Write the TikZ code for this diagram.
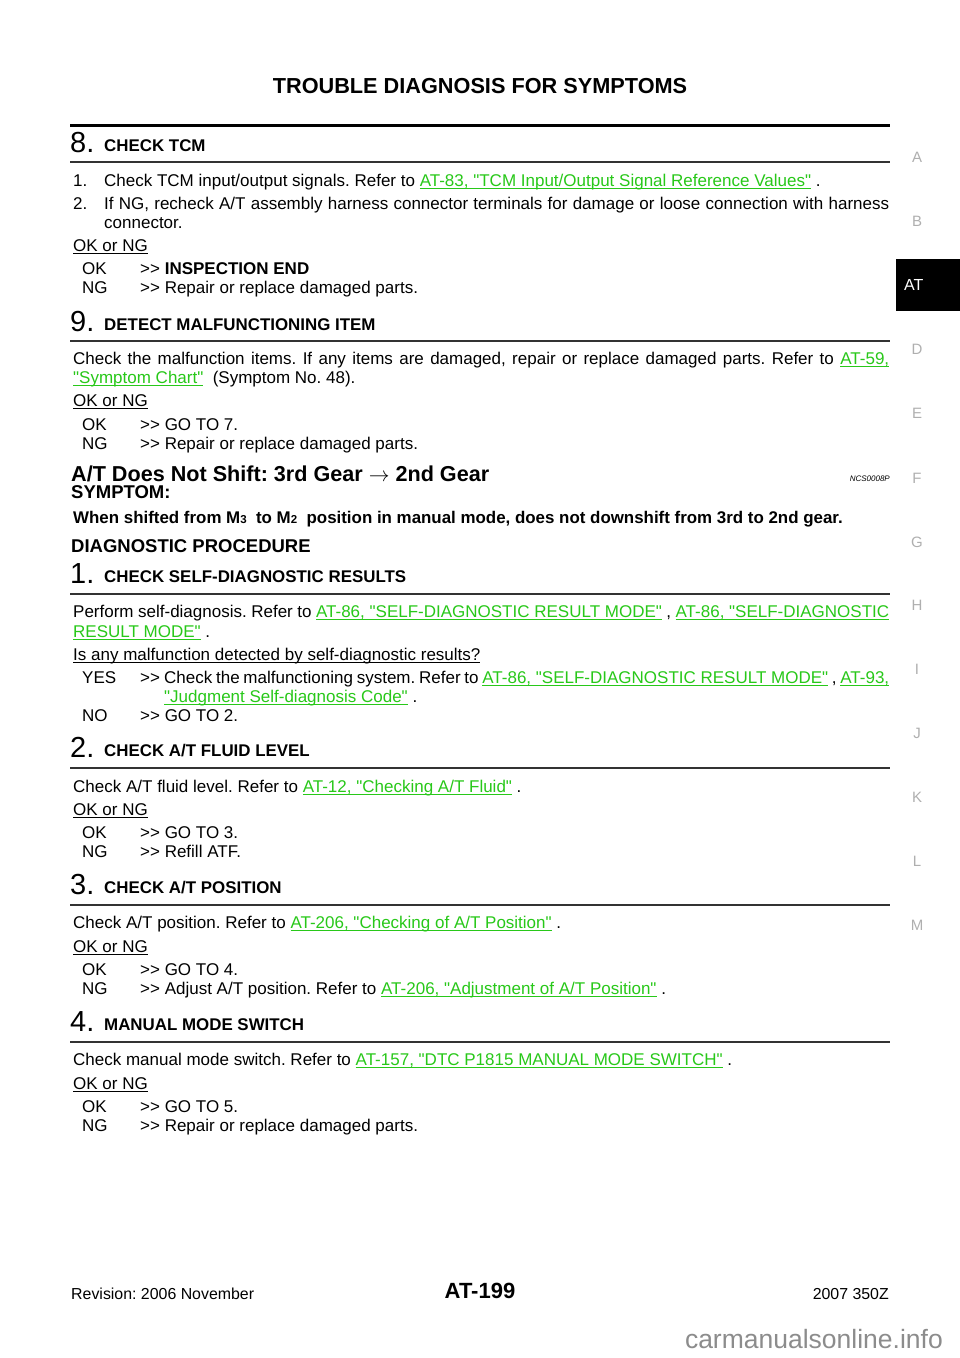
\documentclass[tikz,border=0pt]{standalone}
\usepackage{fontspec}
\setmainfont{Liberation Sans}[Ligatures=TeXOff]
\usepackage{xcolor}
\definecolor{lk}{RGB}{40,200,25}
\definecolor{tabgray}{RGB}{175,175,175}
\definecolor{rulegray}{RGB}{50,50,50}
\definecolor{wmgray}{RGB}{140,140,140}
\newcommand\fs[1]{\fontsize{#1}{#1}\selectfont}
\newcommand\ulx[1]{\setbox0\hbox{#1}\rlap{\rule[-3pt]{\wd0}{1pt}}\box0}
\newcommand\lnk[1]{{\color{lk}\ulx{#1}}}
\newcommand\dgt{>>}
\newcommand\jl[2]{\makebox[#1pt][s]{#2}}
\frenchspacing
\begin{document}
\begin{tikzpicture}[x=1pt,y=-1pt,
  txt/.style={anchor=base west,inner sep=0pt,font=\fs{17}},
  head/.style={anchor=base west,inner sep=0pt,font=\fs{16.9}\bfseries},
  num/.style={anchor=base west,inner sep=0pt,font=\fs{29}},
  side/.style={anchor=center,inner sep=0pt,font=\fs{15},text=tabgray},
  thinrule/.style={line width=1.6pt,draw=rulegray},
  thickrule/.style={line width=3pt,draw=black}]
\fill[white] (0,0) rectangle (960,1358);
\useasboundingbox (0,0) rectangle (960,1358);

% header
\node[anchor=base,inner sep=0pt,font=\fs{21.7}\bfseries] (title) at (480,93) {TROUBLE DIAGNOSIS FOR SYMPTOMS};
\coordinate (tl) at (70,125); \coordinate (tr) at (890,125);
\draw[thickrule] (tl) -- (tr);

% side tabs
\node[side] (sA) at (917,157) {A};
\node[side] (sB) at (917,221) {B};
\fill[black] (896,259) rectangle (960,311);
\node[anchor=west,inner sep=0pt,font=\fs{16},text=white] (sAT) at (904,285) {AT};
\node[side] (sD) at (917,349) {D};
\node[side] (sE) at (917,413) {E};
\node[side] (sF) at (917,478) {F};
\node[side] (sG) at (917,542) {G};
\node[side] (sH) at (917,605) {H};
\node[side] (sI) at (917,669) {I};
\node[side] (sJ) at (917,733) {J};
\node[side] (sK) at (917,797) {K};
\node[side] (sL) at (917,861) {L};
\node[side] (sM) at (917,925) {M};

% step 8
\node[num] (n8) at (70,152) {8.};
\node[head] (h8) at (104,151) {CHECK TCM};
\coordinate (r8l) at (70,162); \coordinate (r8r) at (890,162);
\draw[thinrule] (r8l) -- (r8r);
\node[txt] (a81) at (73,186) {1.};
\node[txt] (b81) at (104,186) {Check TCM input/output signals. Refer to \lnk{AT-83, "TCM Input/Output Signal Reference Values"} .};
\node[txt] (a82) at (73,209) {2.};
\node[txt] (b82) at (104,209) {\jl{785}{If NG, recheck A/T assembly harness connector terminals for damage or loose connection with harness}};
\node[txt] (c82) at (104,228) {connector.};
\node[txt] (q8) at (73,251) {\ulx{OK or NG}};
\node[txt] (o8) at (82,274) {OK};
\node[txt] (oa8) at (140,274) {\dgt\ \textbf{INSPECTION END}};
\node[txt] (g8) at (82,293) {NG};
\node[txt] (ga8) at (140,293) {\dgt\ Repair or replace damaged parts.};

% step 9
\node[num] (n9) at (70,331) {9.};
\node[head] (h9) at (104,330) {DETECT MALFUNCTIONING ITEM};
\coordinate (r9l) at (70,341); \coordinate (r9r) at (890,341);
\draw[thinrule] (r9l) -- (r9r);
\node[txt] (b91) at (73,364) {\jl{816}{Check the malfunction items. If any items are damaged, repair or replace damaged parts. Refer to \lnk{AT-59,}}};
\node[txt] (b92) at (73,383) {\lnk{"Symptom Chart"} \ (Symptom No. 48).};
\node[txt] (q9) at (73,406) {\ulx{OK or NG}};
\node[txt] (o9) at (82,430) {OK};
\node[txt] (oa9) at (140,430) {\dgt\ GO TO 7.};
\node[txt] (g9) at (82,449) {NG};
\node[txt] (ga9) at (140,449) {\dgt\ Repair or replace damaged parts.};

% section title
\node[anchor=base west,inner sep=0pt,font=\fs{21.6}\bfseries] (sec) at (71,481) {A/T Does Not Shift: 3rd Gear {\normalfont$\rightarrow$} 2nd Gear};
\node[anchor=base east,inner sep=0pt,font=\fs{8}\itshape] (code) at (890,481) {NCS0008P};
\node[anchor=base west,inner sep=0pt,font=\fs{18.5}\bfseries] (sym) at (71,498) {SYMPTOM:};
\node[anchor=base west,inner sep=0pt,font=\fs{16.9}\bfseries] (symt) at (73,523) {When shifted from M{\fs{11.5}3} \ to M{\fs{11.5}2} \ position in manual mode, does not downshift from 3rd to 2nd gear.};
\node[anchor=base west,inner sep=0pt,font=\fs{18.5}\bfseries] (dp) at (71,552) {DIAGNOSTIC PROCEDURE};

% step 1
\node[num] (n1) at (70,583) {1.};
\node[head] (h1) at (104,582) {CHECK SELF-DIAGNOSTIC RESULTS};
\coordinate (r1l) at (70,594); \coordinate (r1r) at (890,594);
\draw[thinrule] (r1l) -- (r1r);
\node[txt] (b11) at (73,617) {\jl{816}{Perform self-diagnosis. Refer to \lnk{AT-86, "SELF-DIAGNOSTIC RESULT MODE"} , \lnk{AT-86, "SELF-DIAGNOSTIC}}};
\node[txt] (b12) at (73,637) {\lnk{RESULT MODE"} .};
\node[txt] (q1) at (73,660) {\ulx{Is any malfunction detected by self-diagnostic results?}};
\node[txt] (y1) at (82,683) {YES};
\node[txt] (ya1) at (140,683) {\dgt};
\node[txt] (yb1) at (164,683) {\jl{725}{Check the malfunctioning system. Refer to \lnk{AT-86, "SELF-DIAGNOSTIC RESULT MODE"} , \lnk{AT-93,}}};
\node[txt] (yc1) at (164,702) {\lnk{"Judgment Self-diagnosis Code"} .};
\node[txt] (no1) at (82,721) {NO};
\node[txt] (noa1) at (140,721) {\dgt\ GO TO 2.};

% step 2
\node[num] (n2) at (70,757) {2.};
\node[head] (h2) at (104,756) {CHECK A/T FLUID LEVEL};
\coordinate (r2l) at (70,768); \coordinate (r2r) at (890,768);
\draw[thinrule] (r2l) -- (r2r);
\node[txt] (b21) at (73,792) {Check A/T fluid level. Refer to \lnk{AT-12, "Checking A/T Fluid"} .};
\node[txt] (q2) at (73,815) {\ulx{OK or NG}};
\node[txt] (o2) at (82,838) {OK};
\node[txt] (oa2) at (140,838) {\dgt\ GO TO 3.};
\node[txt] (g2) at (82,857) {NG};
\node[txt] (ga2) at (140,857) {\dgt\ Refill ATF.};

% step 3
\node[num] (n3) at (70,894) {3.};
\node[head] (h3) at (104,893) {CHECK A/T POSITION};
\coordinate (r3l) at (70,905); \coordinate (r3r) at (890,905);
\draw[thinrule] (r3l) -- (r3r);
\node[txt] (b31) at (73,928) {Check A/T position. Refer to \lnk{AT-206, "Checking of A/T Position"} .};
\node[txt] (q3) at (73,952) {\ulx{OK or NG}};
\node[txt] (o3) at (82,975) {OK};
\node[txt] (oa3) at (140,975) {\dgt\ GO TO 4.};
\node[txt] (g3) at (82,994) {NG};
\node[txt] (ga3) at (140,994) {\dgt\ Adjust A/T position. Refer to \lnk{AT-206, "Adjustment of A/T Position"} .};

% step 4
\node[num] (n4) at (70,1031) {4.};
\node[head] (h4) at (104,1030) {MANUAL MODE SWITCH};
\coordinate (r4l) at (70,1042); \coordinate (r4r) at (890,1042);
\draw[thinrule] (r4l) -- (r4r);
\node[txt] (b41) at (73,1065) {Check manual mode switch. Refer to \lnk{AT-157, "DTC P1815 MANUAL MODE SWITCH"} .};
\node[txt] (q4) at (73,1089) {\ulx{OK or NG}};
\node[txt] (o4) at (82,1112) {OK};
\node[txt] (oa4) at (140,1112) {\dgt\ GO TO 5.};
\node[txt] (g4) at (82,1131) {NG};
\node[txt] (ga4) at (140,1131) {\dgt\ Repair or replace damaged parts.};

% footer
\node[anchor=base west,inner sep=0pt,font=\fs{15.9}] (rev) at (71,1299) {Revision: 2006 November};
\node[anchor=base,inner sep=0pt,font=\fs{22}\bfseries] (page) at (480,1298) {AT-199};
\node[anchor=base east,inner sep=0pt,font=\fs{15.9}] (model) at (889,1299) {2007 350Z};
\node[anchor=base east,inner sep=0pt,font=\fs{26.5},text=wmgray] (wm) at (943,1348) {carmanualsonline.info};
\end{tikzpicture}
\end{document}
